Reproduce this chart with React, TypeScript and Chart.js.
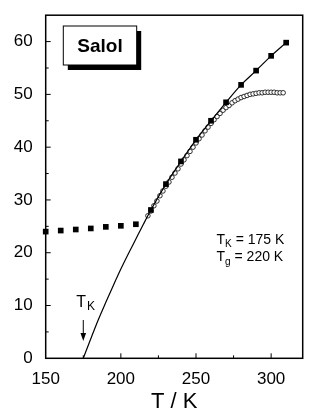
import React, { useEffect, useRef } from "react";
import { Chart, registerables } from "chart.js";

Chart.register(...registerables);

// ---- data ----
const curveT = [175, 180, 185, 190, 195, 200, 205, 210, 215, 220, 230, 240, 250, 260, 270, 280, 290, 300, 310];
const curveS = [0, 3.7, 7.3, 10.6, 13.8, 16.9, 19.8, 22.6, 25.4, 28.1, 33.0, 37.3, 41.4, 45.0, 48.5, 51.8, 54.5, 57.3, 59.8];

const squareT = [150, 160, 170, 180, 190, 200, 210, 220, 230, 240, 250, 260, 270, 280, 290, 300, 310];
const squareS = [24.0, 24.2, 24.4, 24.6, 24.9, 25.1, 25.4, 28.1, 33.0, 37.3, 41.4, 45.0, 48.5, 51.8, 54.5, 57.3, 59.8];

const circleT = [218, 220, 222, 224, 226, 228, 230, 232, 234, 236, 238, 240, 242, 244, 246, 248, 250, 252, 254, 256, 258, 260, 262, 264, 266, 268, 270, 272, 274, 276, 278, 280, 282, 284, 286, 288, 290, 292, 294, 296, 298, 300, 302, 304, 306, 308];
const circleS = [27.0, 27.9, 28.9, 29.8, 30.8, 31.7, 32.6, 33.4, 34.3, 35.1, 35.9, 36.8, 37.6, 38.4, 39.2, 40.0, 40.8, 41.6, 42.3, 43.1, 43.8, 44.5, 45.2, 45.8, 46.4, 47.0, 47.5, 47.9, 48.4, 48.8, 49.1, 49.4, 49.6, 49.8, 50.0, 50.1, 50.2, 50.3, 50.3, 50.4, 50.4, 50.4, 50.4, 50.3, 50.3, 50.3];

const xMajor = [150, 200, 250, 300];
const xMinor = [175, 225, 275];
const yMajor = [0, 10, 20, 30, 40, 50, 60];
const yMinor = [5, 15, 25, 35, 45, 55];

const xTitle = "T / K";
const boxLabel = "Salol";
const tkValue = "175 K";
const tgValue = "220 K";

const FONT = "'Liberation Sans', Arial, sans-serif";

const annotations = {
  id: "annotations",
  beforeDatasetsDraw(chart: any) {
    const { ctx, chartArea, scales } = chart;
    const { left, right, top, bottom } = chartArea;
    const xs = scales.x;
    const ys = scales.y;
    ctx.save();
    ctx.strokeStyle = "#000";
    ctx.lineWidth = 1.5;
    ctx.strokeRect(left, top, right - left, bottom - top);
    ctx.lineWidth = 1;
    const seg = (x1: number, y1: number, x2: number, y2: number) => {
      ctx.beginPath();
      ctx.moveTo(x1, y1);
      ctx.lineTo(x2, y2);
      ctx.stroke();
    };
    yMajor.forEach((v) => {
      const p = ys.getPixelForValue(v);
      if (p < bottom - 1) seg(left, p, left + 5, p);
    });
    yMinor.forEach((v) => {
      const p = ys.getPixelForValue(v);
      seg(left, p, left + 3, p);
    });
    xMajor.forEach((v) => {
      const p = xs.getPixelForValue(v);
      if (p > left + 1) seg(p, bottom, p, bottom - 5);
    });
    xMinor.forEach((v) => {
      const p = xs.getPixelForValue(v);
      seg(p, bottom, p, bottom - 3);
    });
    ctx.restore();
  },
  afterDraw(chart: any) {
    const { ctx, scales } = chart;
    const xs = scales.x;
    ctx.save();
    // Salol box with shadow
    const bx = 63.3, by = 26, bw = 73.4, bh = 39;
    ctx.fillStyle = "#000";
    ctx.fillRect(bx + 4.5, by + 5, bw, bh);
    ctx.fillStyle = "#fff";
    ctx.fillRect(bx, by, bw, bh);
    ctx.strokeStyle = "#000";
    ctx.lineWidth = 1;
    ctx.strokeRect(bx, by, bw, bh);
    ctx.fillStyle = "#000";
    ctx.font = `bold 19px ${FONT}`;
    ctx.textAlign = "center";
    ctx.textBaseline = "middle";
    ctx.fillText(boxLabel, bx + bw / 2, by + bh / 2 + 1);

    // TK / Tg text
    ctx.textAlign = "left";
    ctx.textBaseline = "alphabetic";
    const drawSub = (x: number, base: number, main: string, sub: string, rest: string, size: number) => {
      ctx.font = `${size}px ${FONT}`;
      ctx.fillText(main, x, base);
      let cx = x + ctx.measureText(main).width;
      ctx.font = `${size * 0.72}px ${FONT}`;
      ctx.fillText(sub, cx, base + size * 0.28);
      cx += ctx.measureText(sub).width;
      ctx.font = `${size}px ${FONT}`;
      ctx.fillText(rest, cx, base);
    };
    drawSub(216.5, 243.5, "T", "K", " = " + tkValue, 14);
    drawSub(216.5, 261, "T", "g", " = " + tgValue, 14);

    // TK label + arrow
    ctx.font = `16px ${FONT}`;
    ctx.fillText("T", 76.2, 306.8);
    ctx.font = `12px ${FONT}`;
    ctx.fillText("K", 87, 309.5);
    const ax = xs.getPixelForValue(175);
    ctx.lineWidth = 1;
    ctx.beginPath();
    ctx.moveTo(ax, 320);
    ctx.lineTo(ax, 334);
    ctx.stroke();
    ctx.beginPath();
    ctx.moveTo(ax - 2.8, 333);
    ctx.lineTo(ax + 2.8, 333);
    ctx.lineTo(ax, 341);
    ctx.closePath();
    ctx.fill();
    ctx.restore();
  },
};

export default function App() {
  const ref = useRef<HTMLCanvasElement | null>(null);
  useEffect(() => {
    if (!ref.current) return;
    const toXY = (xs: number[], ys: number[]) => xs.map((x, i) => ({ x, y: ys[i] }));
    const chart = new Chart(ref.current, {
      type: "scatter",
      data: {
        datasets: [
          {
            data: toXY(squareT, squareS),
            pointStyle: "rect",
            pointRadius: 4,
            backgroundColor: "#000",
            borderColor: "#000",
            borderWidth: 0,
            showLine: false,
            clip: false,
          } as any,
          {
            data: toXY(curveT, curveS),
            showLine: true,
            borderColor: "#000",
            borderWidth: 1.2,
            pointRadius: 0,
            cubicInterpolationMode: "monotone",
            clip: false,
          } as any,
          {
            data: toXY(circleT, circleS),
            pointStyle: "circle",
            pointRadius: 2.3,
            backgroundColor: "#fff",
            borderColor: "#000",
            borderWidth: 0.8,
            showLine: false,
            clip: false,
          } as any,
        ],
      },
      options: {
        animation: false,
        responsive: false,
        maintainAspectRatio: false,
        events: [],
        layout: { padding: { left: 0, right: 29.3, top: 8, bottom: 0 } },
        plugins: { legend: { display: false }, tooltip: { enabled: false } },
        scales: {
          x: {
            type: "linear",
            min: 150,
            max: 321,
            grid: { display: false },
            border: { display: false },
            ticks: {
              stepSize: 50,
              includeBounds: false,
              color: "#000",
              padding: 3,
              font: { family: FONT, size: 17 },
            },
            title: {
              display: true,
              text: xTitle,
              color: "#000",
              font: { family: FONT, size: 22, lineHeight: 1 },
              padding: { top: 0, bottom: 2 },
            },
            afterFit: (s: any) => {
              s.height = 56.7;
            },
          },
          y: {
            type: "linear",
            min: 0,
            max: 65,
            grid: { display: false },
            border: { display: false },
            ticks: {
              stepSize: 10,
              includeBounds: false,
              color: "#000",
              padding: 5,
              font: { family: FONT, size: 17 },
            },
            afterFit: (s: any) => {
              s.width = 45.7;
            },
          },
        },
      },
      plugins: [annotations],
    } as any);
    return () => chart.destroy();
  }, []);
  return (
    <div style={{ position: "absolute", left: 0, top: 0, width: 332, height: 415, background: "#fff" }}>
      <canvas ref={ref} width={332} height={415} style={{ display: "block", width: 332, height: 415 }} />
    </div>
  );
}
